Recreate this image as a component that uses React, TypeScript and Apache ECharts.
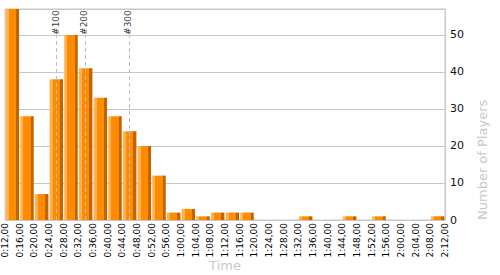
import React, { useEffect, useRef } from "react";
import * as echarts from "echarts";

const bins: string[] = [
  "0:12", "0:16", "0:20", "0:24", "0:28", "0:32", "0:36", "0:40", "0:44", "0:48",
  "0:52", "0:56", "1:00", "1:04", "1:08", "1:12", "1:16", "1:20", "1:24", "1:28",
  "1:32", "1:36", "1:40", "1:44", "1:48", "1:52", "1:56", "2:00", "2:04", "2:08",
];
const counts: number[] = [
  57, 28, 7, 38, 50, 41, 33, 28, 24, 20,
  12, 2, 3, 1, 2, 2, 2, 0, 0, 0,
  1, 0, 0, 1, 0, 1, 0, 0, 0, 1,
];
const markerLabels: string[] = ["#100", "#200", "#300"];
const markerMinutes: number[] = [26.1, 33.9, 45.9];
const timeMin = 12;
const timeMax = 132;
const timeStep = 4;
const yMax = 57;
const yStep = 10;

const fmtTime = (m: number) => {
  const h = Math.floor(m / 60);
  const mm = Math.round(m % 60);
  return `${h}:${String(mm).padStart(2, "0")},00`;
};

export default function App() {
  const ref = useRef<HTMLDivElement>(null);
  useEffect(() => {
    if (!ref.current) return;
    const chart = echarts.init(ref.current, undefined, { renderer: "svg" });
    const font = "DejaVu Sans";
    const barColor = new echarts.graphic.LinearGradient(0, 0, 1, 0, [
      { offset: 0, color: "#ffb04f" },
      { offset: 0.22, color: "#ffb04f" },
      { offset: 0.22, color: "#ff8c00" },
      { offset: 0.78, color: "#ff8c00" },
      { offset: 0.78, color: "#c26400" },
      { offset: 1, color: "#c26400" },
    ]);
    chart.setOption({
      animation: false,
      backgroundColor: "#ffffff",
      textStyle: { fontFamily: font },
      grid: {
        left: 5,
        right: 55,
        top: 9,
        bottom: 55,
        outerBoundsMode: "none",
        containLabel: false,
        show: true,
        borderColor: "#c8c8c8",
        borderWidth: 1,
        backgroundColor: "transparent",
      },
      xAxis: [
        {
          type: "category",
          data: bins,
          show: false,
          boundaryGap: true,
        },
        {
          type: "value",
          min: timeMin,
          max: timeMax,
          interval: timeStep,
          position: "bottom",
          axisLine: { show: false },
          axisTick: { show: false },
          splitLine: { show: false },
          axisLabel: {
            rotate: 90,
            fontSize: 9,
            fontFamily: font,
            color: "#000",
            margin: 3,
            formatter: (v: number) => fmtTime(v),
          },
          name: "Time",
          nameLocation: "middle",
          nameGap: 39,
          nameMoveOverlap: false,
          nameTextStyle: { color: "#c8c8c8", fontSize: 13, fontFamily: font },
        },
      ],
      yAxis: {
        type: "value",
        position: "right",
        min: 0,
        max: yMax,
        interval: yStep,
        axisLine: { show: true, lineStyle: { color: "#c8c8c8" } },
        axisTick: { show: false },
        splitLine: { show: true, lineStyle: { color: "#c8c8c8", width: 1 } },
        axisLabel: {
          fontSize: 11,
          fontFamily: font,
          color: "#111",
          margin: 5,
          formatter: (v: number) => (v % yStep === 0 ? String(v) : ""),
        },
      },
      graphic: [
        {
          type: "text",
          x: 482,
          y: 220,
          rotation: Math.PI / 2,
          style: {
            text: "Number of Players",
            fill: "#c8c8c8",
            fontSize: 13,
            fontFamily: font,
            align: "left",
            verticalAlign: "middle",
          },
        },
      ],
      series: [
        {
          type: "scatter",
          xAxisIndex: 1,
          yAxisIndex: 0,
          z: 1,
          symbolSize: 0,
          data: markerMinutes.map((m, i) => ({ value: [m, 50], name: markerLabels[i] })),
          label: {
            show: true,
            position: [0, 0],
            formatter: (p: any) => p.name,
            rotate: 90,
            align: "left",
            verticalAlign: "middle",
            offset: [0, -1],
            fontSize: 9,
            fontFamily: font,
            color: "#000",
          },
          markLine: {
            silent: true,
            symbol: "none",
            label: { show: false },
            lineStyle: { color: "#bdbdbd", type: [4, 3], width: 1 },
            data: markerMinutes.map((m) => [
              { coord: [m, 0] },
              { coord: [m, 50] },
            ]),
          },
        },
        {
          type: "bar",
          xAxisIndex: 0,
          yAxisIndex: 0,
          z: 3,
          data: counts,
          barCategoryGap: "8%",
          itemStyle: { color: barColor },
        },
      ],
    });
    return () => chart.dispose();
  }, []);
  return (
    <div
      ref={ref}
      style={{ position: "fixed", left: 0, top: 0, width: 500, height: 275 }}
    />
  );
}
